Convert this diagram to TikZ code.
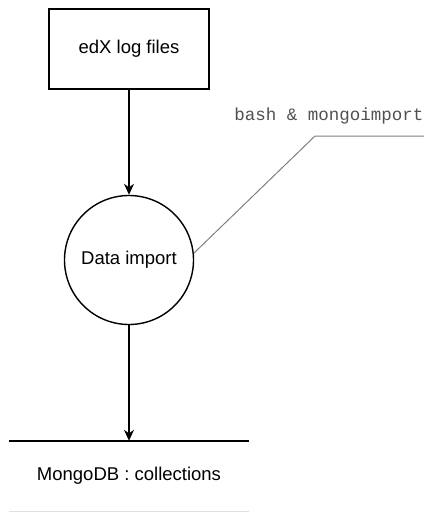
\documentclass[tikz,border=0pt]{standalone}
\usepackage{fontspec}
\setmainfont{Liberation Sans}
\setmonofont{Liberation Mono}
\usetikzlibrary{arrows.meta}
\definecolor{notegray}{RGB}{128,128,128}
\definecolor{textgray}{RGB}{80,80,80}
\begin{document}
\begin{tikzpicture}[x=1pt,y=-1pt,
    flow/.style={line width=1.4pt,-{Stealth[length=11pt,width=10pt]}},
    txt/.style={font=\fontsize{18.5}{22}\selectfont}]
      \useasboundingbox (0,0) rectangle (424,512);
      \draw
        (129,49) node[draw,line width=1.4pt,minimum width=160pt,minimum height=80pt,txt] (files){edX log files}
        (129,260) node[draw,circle,line width=1.4pt,minimum size=129pt,inner sep=0pt,txt] (import){Data import}
        (129,476) node[minimum width=239pt,minimum height=70pt,txt] (db){MongoDB : collections}
        (329,116) node[font=\ttfamily\fontsize{17.5}{20}\selectfont,text=textgray] (note){bash \& mongoimport};
      \coordinate (bend) at (315,136);
      \coordinate (noteend) at (424,136);
      \begin{scope}[flow]
        \draw (files) to (import);
        \draw (import) to (db.north);
      \end{scope}
      \draw[line width=1.4pt] (db.north west) -- (db.north east);
      \draw[line width=1.4pt,black!12] (db.south west) -- (db.south east);
      \draw[notegray,line width=1pt] (import.6) -- (bend) -- (noteend);
    \end{tikzpicture}
\end{document}
